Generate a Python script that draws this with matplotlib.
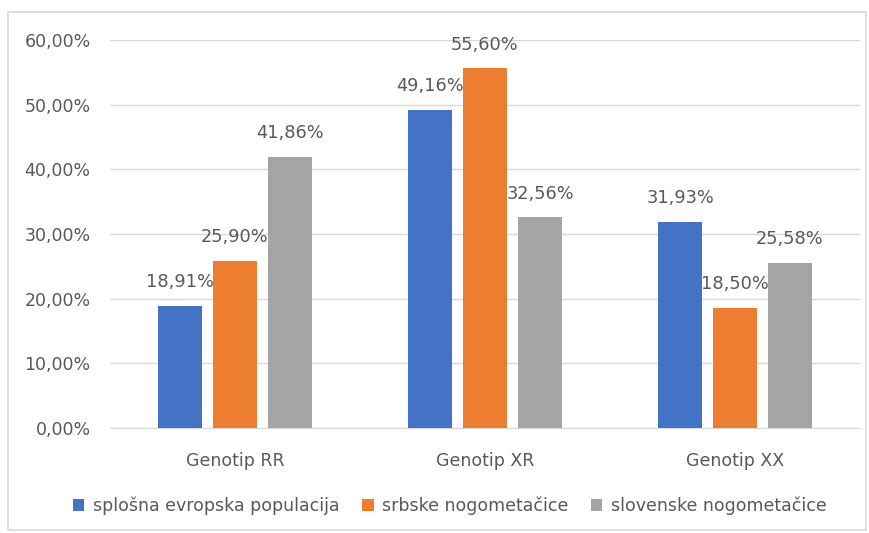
import numpy as np
import matplotlib
matplotlib.use("Agg")
from matplotlib import pyplot as plt
from matplotlib.patches import Rectangle
from matplotlib.ticker import FuncFormatter

# genotype frequencies (%)
genotypes = ["Genotip RR", "Genotip XR", "Genotip XX"]
series_names = ["splošna evropska populacija", "srbske nogometačice", "slovenske nogometačice"]
evropska = [18.91, 49.16, 31.93]
srbske = [25.90, 55.60, 18.50]
slovenske = [41.86, 32.56, 25.58]
colors = ["#4472C4", "#ED7D31", "#A5A5A5"]

text_col = "#595959"
plt.rcParams['font.family'] = ['DejaVu Sans']

fig = plt.figure(figsize=(8.69, 5.33), dpi=100)
fig.patches.append(Rectangle((8 / 869, 1 - 530 / 533), 858 / 869, 518 / 533,
                             transform=fig.transFigure, fill=False,
                             edgecolor="#D9D9D9", linewidth=1.2))

ax = fig.add_axes([110 / 869, 1 - 428 / 533, 750 / 869, 388 / 533])
x = np.arange(len(genotypes))
width = 0.176
offset = 0.22

for i, (vals, name) in enumerate(zip([evropska, srbske, slovenske], series_names)):
    bars = ax.bar(x + (i - 1) * offset, vals, width, color=colors[i], label=name, zorder=3)
    for b, v in zip(bars, vals):
        ax.text(b.get_x() + b.get_width() / 2, v + 2.3, "{:.2f}%".format(v).replace(".", ","),
                ha="center", va="bottom", fontsize=12.8, color=text_col)

ax.set_xlim(-0.5, 2.5)
ax.set_ylim(0, 60)
ax.set_yticks(np.arange(0, 61, 10))
ax.yaxis.set_major_formatter(FuncFormatter(lambda v, p: "{:.2f}%".format(v).replace(".", ",")))
ax.set_xticks(x)
ax.set_xticklabels(genotypes)
ax.tick_params(axis="y", length=0, pad=14, labelsize=12.5, labelcolor=text_col)
ax.tick_params(axis="x", length=0, pad=17, labelsize=12.5, labelcolor=text_col)
ax.grid(axis="y", color="#D9D9D9", linewidth=1, zorder=0)
for s in ["top", "right", "left"]:
    ax.spines[s].set_visible(False)
ax.spines["bottom"].set_color("#D9D9D9")

leg = fig.legend(loc="center", bbox_to_anchor=(450 / 869, 1 - 506 / 533), ncol=3,
                 frameon=False, fontsize=12.5, handlelength=0.65, handleheight=0.65,
                 handletextpad=0.5, columnspacing=1.3)
for t in leg.get_texts():
    t.set_color(text_col)

fig.savefig("out.png", dpi=100)
